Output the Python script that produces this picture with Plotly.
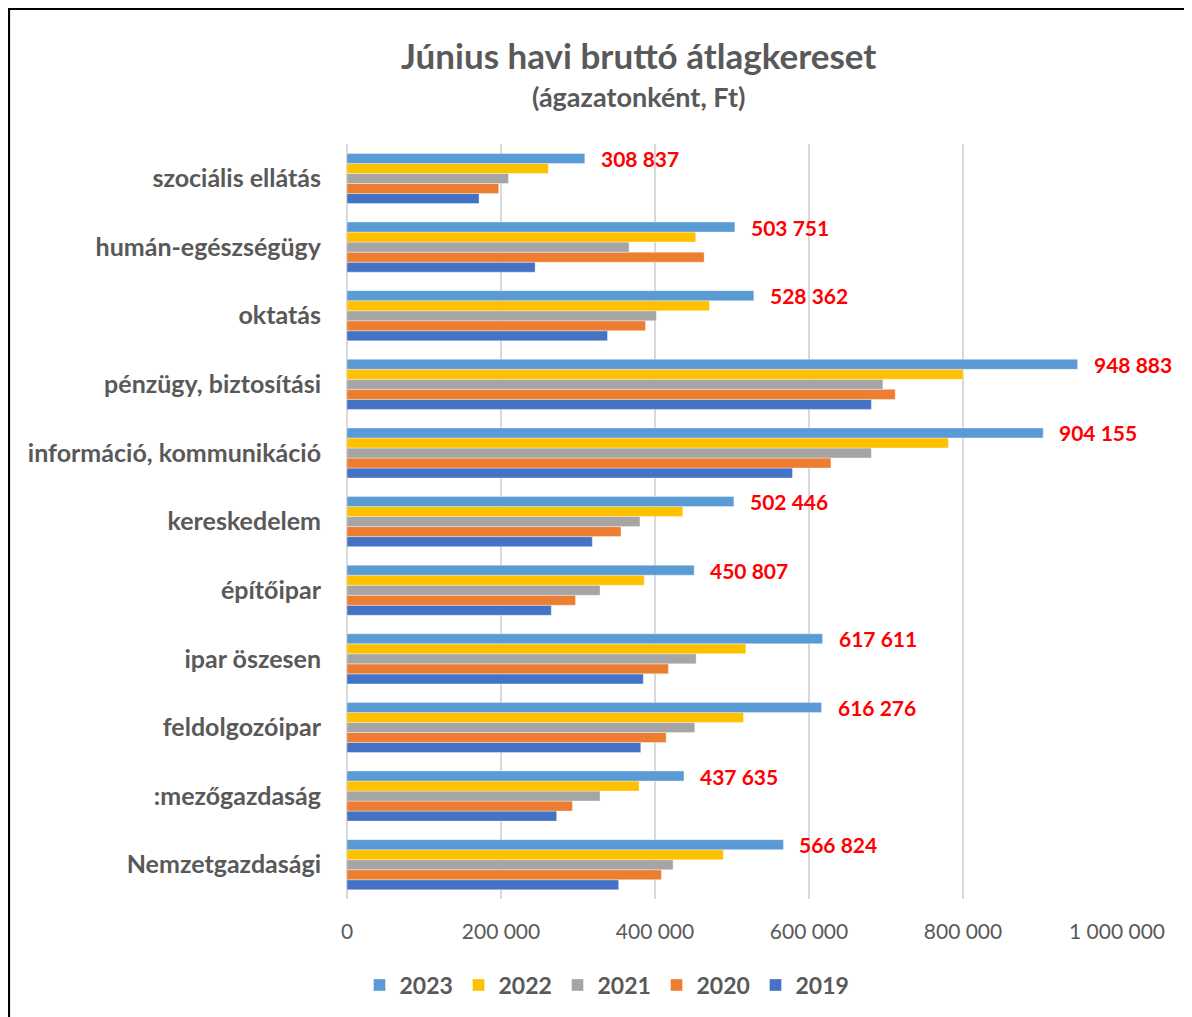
import plotly.graph_objects as go

# Categories, top to bottom as shown in the chart
categories = [
    "szociális ellátás",
    "humán-egészségügy",
    "oktatás",
    "pénzügy, biztosítási",
    "információ, kommunikáció",
    "kereskedelem",
    "építőipar",
    "ipar öszesen",
    "feldolgozóipar",
    ":mezőgazdaság",
    "Nemzetgazdasági",
]

y2023 = [308837, 503751, 528362, 948883, 904155, 502446, 450807, 617611, 616276, 437635, 566824]
y2022 = [261500, 452800, 470700, 800000, 781000, 436000, 386000, 518000, 515000, 379300, 488800]
y2021 = [209700, 366300, 401800, 696000, 681000, 380500, 328600, 453400, 451700, 328600, 423500]
y2020 = [197000, 463800, 387600, 712000, 628500, 355800, 296800, 417400, 414400, 292800, 408300]
y2019 = [171500, 244300, 338300, 681000, 578500, 318600, 265300, 384800, 381500, 272300, 352800]

series_names = ["2019", "2020", "2021", "2022", "2023"]
series_values = [y2019, y2020, y2021, y2022, y2023]
series_colors = ["#4472C4", "#ED7D31", "#A5A5A5", "#FFC000", "#5B9BD5"]

x_tick_values = [0, 200000, 400000, 600000, 800000, 1000000]

FONT = "Lato"
GREY = "#595959"

fig = go.Figure()
for name, vals, col in zip(series_names, series_values, series_colors):
    fig.add_trace(go.Bar(
        name=name, y=categories, x=vals, orientation="h",
        marker=dict(color=col, line=dict(color="rgba(255,255,255,0.6)", width=0.6)),
        hoverinfo="x+name",
    ))

# data labels for 2023
for cat, v in zip(categories, y2023):
    fig.add_annotation(
        x=v, y=cat, xref="x", yref="y", text=f"{v:,}".replace(",", " "),
        showarrow=False, xanchor="left", yanchor="middle", xshift=14, yshift=20,
        font=dict(family=FONT, size=21, color="#FF0000", weight="bold"),
    )

# page is offset by 8px (body margin), so figure coordinates = screen - 8
OFF = 8
W, H = 1192 - OFF, 1017 - OFF
L, R, T, B = 339, 75, 136, 118
pw, ph = W - L - R, H - T - B

def px_to_paper_x(sx):
    return (sx - OFF - L) / pw

def py_to_paper_y(sy):
    return 1 - (sy - OFF - T) / ph

# title & subtitle
fig.add_annotation(
    x=px_to_paper_x(638), y=py_to_paper_y(55), xref="paper", yref="paper",
    text="Június havi bruttó átlagkereset", showarrow=False,
    xanchor="center", yanchor="middle",
    font=dict(family=FONT, size=35, color=GREY, weight="bold"),
)
fig.add_annotation(
    x=px_to_paper_x(638), y=py_to_paper_y(96), xref="paper", yref="paper",
    text="(ágazatonként, Ft)", showarrow=False,
    xanchor="center", yanchor="middle",
    font=dict(family=FONT, size=27, color=GREY, weight="bold"),
)

# outer border
fig.add_shape(
    type="rect", xref="paper", yref="paper",
    x0=px_to_paper_x(9), x1=px_to_paper_x(1210),
    y0=py_to_paper_y(1040), y1=py_to_paper_y(9),
    line=dict(color="black", width=2.2), fillcolor="rgba(0,0,0,0)", layer="above",
)

fig.update_layout(
    width=W, height=H,
    margin=dict(l=L, r=R, t=T, b=B, autoexpand=False),
    paper_bgcolor="white", plot_bgcolor="white",
    barmode="group", bargap=0.27, bargroupgap=0,
    separators=". ",
    font=dict(family=FONT, color=GREY),
    showlegend=True,
    legend=dict(
        orientation="h", x=px_to_paper_x(607), xanchor="center",
        y=py_to_paper_y(985), yanchor="middle",
        traceorder="reversed",
        font=dict(family=FONT, size=23, color=GREY, weight="bold"),
        entrywidth=54, entrywidthmode="pixels",
        itemwidth=30,
    ),
    xaxis=dict(
        range=[0, 1000000], tickvals=x_tick_values, tickformat=",",
        showgrid=True, gridcolor="#D9D9D9", gridwidth=1.5,
        zeroline=True, zerolinecolor="#D9D9D9", zerolinewidth=1.5,
        showline=False, ticks="", ticklabelstandoff=18,
        tickfont=dict(family=FONT, size=21, color=GREY),
        fixedrange=True,
    ),
    yaxis=dict(
        type="category", categoryorder="array", categoryarray=categories[::-1],
        showgrid=False, zeroline=False, showline=False, ticks="",
        ticklabelstandoff=25,
        tickfont=dict(family=FONT, size=25, color=GREY, weight="bold"),
        fixedrange=True,
    ),
)

fig.write_html("out.html")
